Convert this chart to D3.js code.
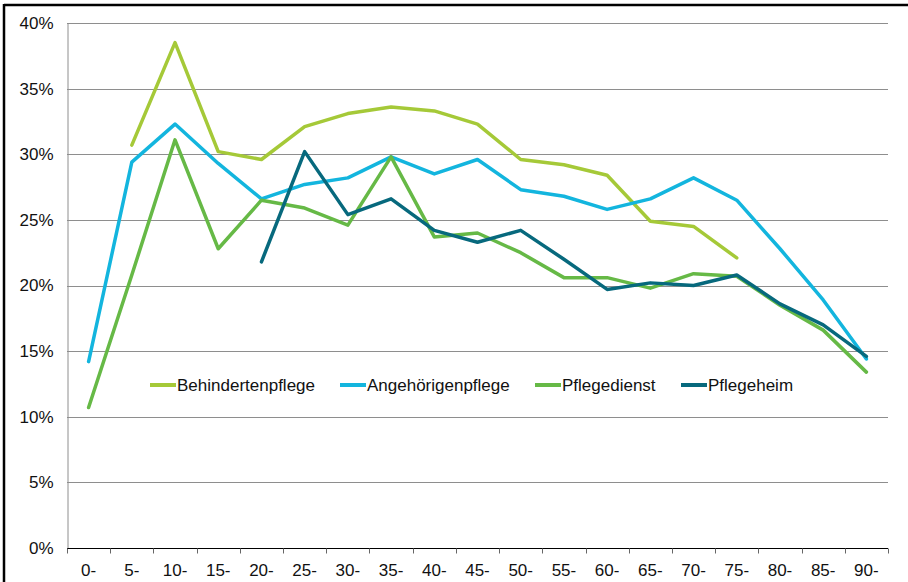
<!DOCTYPE html>
<html>
<head>
<meta charset="utf-8">
<script src="https://cdn.jsdelivr.net/npm/d3@7"></script>
<style>
  html, body { margin: 0; padding: 0; background: #fff; }
  svg { display: block; font-family: "Liberation Sans", Arial, sans-serif; }
</style>
</head>
<body>
<svg id="chart" width="908" height="582"></svg>
<script>
// Age groups on the x axis
const ageGroups = ["0-", "5-", "10-", "15-", "20-", "25-", "30-", "35-", "40-", "45-",
                   "50-", "55-", "60-", "65-", "70-", "75-", "80-", "85-", "90-"];

// Shares in percent per age group (null = no value)
const behindertenpflege = [null, 30.7, 38.5, 30.2, 29.6, 32.1, 33.1, 33.6, 33.3, 32.3,
                           29.6, 29.2, 28.4, 24.9, 24.5, 22.1, null, null, null];
const angehoerigenpflege = [14.2, 29.4, 32.3, 29.3, 26.6, 27.7, 28.2, 29.8, 28.5, 29.6,
                            27.3, 26.8, 25.8, 26.6, 28.2, 26.5, 22.8, 18.9, 14.4];
const pflegedienst = [10.7, 20.8, 31.1, 22.8, 26.5, 25.9, 24.6, 29.8, 23.7, 24.0,
                      22.5, 20.6, 20.6, 19.8, 20.9, 20.7, 18.5, 16.6, 13.4];
const pflegeheim = [null, null, null, null, 21.8, 30.2, 25.4, 26.6, 24.2, 23.3,
                    24.2, 22.0, 19.7, 20.2, 20.0, 20.8, 18.6, 17.0, 14.6];

const yTicks = [0, 5, 10, 15, 20, 25, 30, 35, 40];

const seriesList = [
  { name: "Behindertenpflege", values: behindertenpflege, color: "#a5c938" },
  { name: "Angehörigenpflege", values: angehoerigenpflege, color: "#13b5de" },
  { name: "Pflegedienst", values: pflegedienst, color: "#66b946" },
  { name: "Pflegeheim", values: pflegeheim, color: "#07697d" }
];

const fontSize = 17;
const svg = d3.select("#chart");

// outer frame (top and left edges)
svg.append("line").attr("x1", 4).attr("x2", 908).attr("y1", 5).attr("y2", 5)
  .attr("stroke", "#000").attr("stroke-width", 2.5);
svg.append("line").attr("x1", 4).attr("x2", 4).attr("y1", 4).attr("y2", 582)
  .attr("stroke", "#000").attr("stroke-width", 2.5);

const plot = { left: 67, right: 888, top: 23, bottom: 548 };

const x = d3.scaleBand().domain(ageGroups).range([plot.left, plot.right]);
const y = d3.scaleLinear().domain([0, 40]).range([plot.bottom, plot.top]);

// horizontal gridlines
svg.append("g").selectAll("line")
  .data(yTicks.filter(t => t > 0))
  .join("line")
  .attr("x1", plot.left).attr("x2", plot.right)
  .attr("y1", d => Math.round(y(d)) + 0.5).attr("y2", d => Math.round(y(d)) + 0.5)
  .attr("stroke", "#8e8e8e").attr("stroke-width", 1);

// y axis
const yAxis = svg.append("g")
  .attr("transform", `translate(${plot.left + 0.5},0)`)
  .call(d3.axisLeft(y).tickValues(yTicks).tickSize(0).tickPadding(14).tickFormat(d => d + "%"));
yAxis.select(".domain").attr("stroke", "#8e8e8e");
yAxis.selectAll("text").attr("font-size", fontSize).attr("fill", "#111")
  .attr("font-family", "'Liberation Sans', Arial, sans-serif");

// x axis with ticks between categories
const xAxis = svg.append("g")
  .attr("transform", `translate(0,${plot.bottom + 0.5})`);
xAxis.append("line").attr("x1", plot.left).attr("x2", plot.right)
  .attr("stroke", "#000").attr("stroke-width", 1);
const boundaries = ageGroups.map(d => x(d)).concat([plot.right]);
xAxis.selectAll("line.tick").data(boundaries).join("line")
  .attr("class", "tick")
  .attr("x1", d => Math.round(d) + 0.5).attr("x2", d => Math.round(d) + 0.5)
  .attr("y1", 0).attr("y2", 5)
  .attr("stroke", "#666").attr("stroke-width", 1);
xAxis.selectAll("text").data(ageGroups).join("text")
  .attr("x", d => x(d) + x.bandwidth() / 2)
  .attr("y", 27)
  .attr("text-anchor", "middle")
  .attr("font-size", fontSize).attr("fill", "#111")
  .text(d => d);

// series lines
const line = d3.line()
  .defined(d => d.v !== null)
  .x(d => x(d.cat) + x.bandwidth() / 2)
  .y(d => y(d.v));

svg.append("g").selectAll("path")
  .data(seriesList)
  .join("path")
  .attr("fill", "none")
  .attr("stroke", d => d.color)
  .attr("stroke-width", 3.5)
  .attr("stroke-linejoin", "round")
  .attr("stroke-linecap", "round")
  .attr("d", s => line(s.values.map((v, i) => ({ cat: ageGroups[i], v }))));

// legend
const legendX = [150, 340, 535, 681];
const legendY = 385;
const legend = svg.append("g").selectAll("g")
  .data(seriesList)
  .join("g")
  .attr("transform", (d, i) => `translate(${legendX[i]},${legendY})`);
legend.append("line")
  .attr("x1", 0).attr("x2", 26).attr("y1", 0).attr("y2", 0)
  .attr("stroke", d => d.color).attr("stroke-width", 4);
legend.append("text")
  .attr("x", 27).attr("y", 0).attr("dy", "0.35em")
  .attr("font-size", fontSize).attr("fill", "#111")
  .text(d => d.name);
</script>
</body>
</html>
